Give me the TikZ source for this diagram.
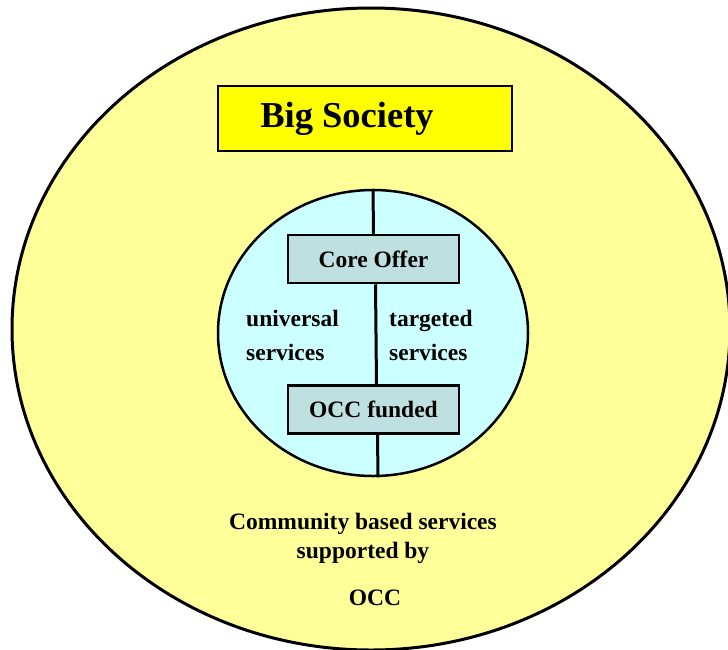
\documentclass[tikz,border=0pt]{standalone}
\usepackage{fontspec}
\setmainfont{Liberation Serif}
\usetikzlibrary{shapes.geometric}
\definecolor{paleyellow}{HTML}{FFFF99}
\definecolor{titleyellow}{HTML}{FFFF00}
\definecolor{palecyan}{HTML}{CCFFFF}
\definecolor{boxcyan}{HTML}{BFE0E0}
\tikzset{
  society/.style={ellipse, draw=black, line width=3pt, fill=paleyellow, inner sep=0pt},
  hub/.style={ellipse, draw=black, line width=2.5pt, fill=palecyan, inner sep=0pt},
  titlebox/.style={rectangle, draw=black, line width=2.8pt, fill=titleyellow, inner sep=0pt,
    font=\fontsize{36.5}{40}\selectfont\bfseries},
  servicebox/.style={rectangle, draw=black, line width=2.5pt, fill=boxcyan, inner sep=0pt,
    minimum width=171pt, minimum height=48pt, font=\fontsize{23.5}{28}\selectfont\bfseries},
  label/.style={inner sep=0pt, font=\fontsize{23.5}{34}\selectfont\bfseries},
  spine/.style={line width=3pt}
}
\begin{document}
\begin{tikzpicture}[x=1pt,y=-1pt]
  \useasboundingbox (0,0) rectangle (728,649);
  \fill[white] (0,0) rectangle (728,649);
  \begin{scope}
    \clip (0,0) rectangle (728,649);
    \node[society, minimum width=718pt, minimum height=642pt] (big) at (371,329) {};
  \end{scope}

  % title
  \node[titlebox, minimum width=294pt, minimum height=65pt] (title) at (365,118.5)
    {\hspace*{-36pt}Big Society};

  % inner circle with its two offers
  \node[hub, minimum width=310pt, minimum height=286pt] (hub) at (373,333) {};
  \node[servicebox] (core) at (373.5,259) {Core Offer};
  \node[servicebox] (occ) at (373.5,409.5) {OCC funded};

  \draw[spine] (hub.north) -- (core.north);
  \draw[spine] ([xshift=2pt]core.south) -- ([xshift=3pt]occ.north);
  \draw[spine] ([xshift=4pt]occ.south) -- ([xshift=5pt]hub.south);

  \node[label, anchor=west, align=left] (univ) at (246,335) {universal\\services};
  \node[label, anchor=west, align=left] (targ) at (389,335) {targeted\\services};

  % caption of the outer area
  \node[label, align=center, font=\fontsize{23.5}{29}\selectfont\bfseries] (community) at (363,538.5)
    {Community based services\\supported by};
  \node[label] (occtext) at (375,598) {OCC};
\end{tikzpicture}
\end{document}
